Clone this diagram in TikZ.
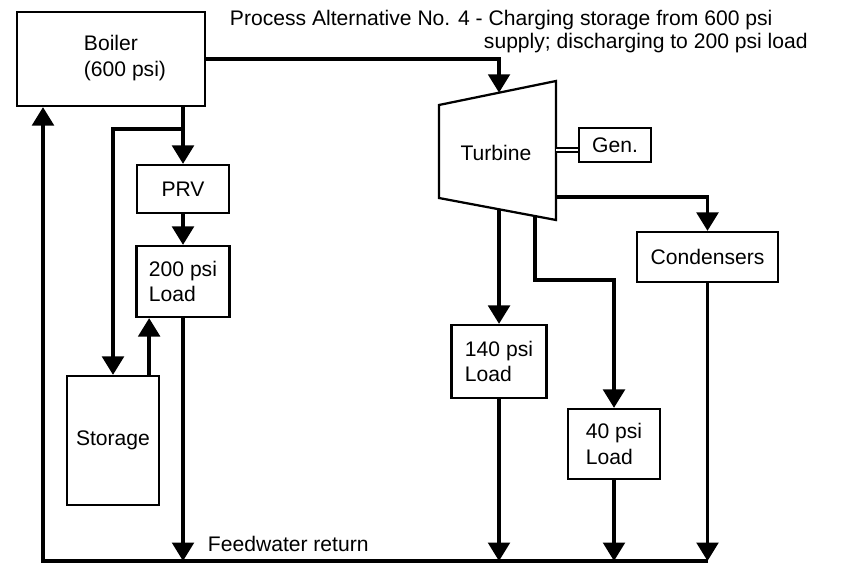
\documentclass[tikz,border=0pt]{standalone}
\usepackage{fontspec}
\setmainfont{Liberation Sans}
\usepackage{tikz}
\usetikzlibrary{arrows.meta, positioning, calc}

\begin{document}
\begin{tikzpicture}[
    x=0.025cm, y=-0.025cm,
    font=\fontsize{15}{18}\selectfont,
    blk/.style={rectangle, draw, line width=1.6pt, inner sep=0pt, align=left},
    flow/.style={line width=2.4pt},
    arrow/.style={flow, -{Triangle[length=4.6mm, width=5.4mm]}},
    shaft/.style={line width=1.6pt, double, double distance=1.6pt},
]
\useasboundingbox (0,0) rectangle (866,564);

\node[blk, minimum width=4.7cm, minimum height=2.35cm] (boiler) at (111,59) {};
\node[align=left] (boilertxt) at (125,58) {Boiler\\(600 psi)};
\node[blk, minimum width=2.3cm, minimum height=1.2cm] (prv) at (183,189) {PRV};
\node[blk, minimum width=2.325cm, minimum height=1.775cm] (l200) at (183,281.5) {200 psi\\Load};
\node[blk, minimum width=2.3cm, minimum height=3.225cm] (storage) at (113,440.5) {Storage};
\node[blk, minimum width=1.8cm, minimum height=0.85cm] (gen) at (615,145) {Gen.};
\node[blk, minimum width=3.525cm, minimum height=1.25cm] (cond) at (707.5,257) {Condensers};
\node[blk, minimum width=2.375cm, minimum height=1.825cm] (l140) at (499,361.5) {140 psi\\Load};
\node[blk, minimum width=2.3cm, minimum height=1.75cm] (l40) at (614,444) {40 psi\\Load};

\coordinate (tTL) at (439,105);
\coordinate (tTR) at (556,81);
\coordinate (tBR) at (556,220);
\coordinate (tBL) at (439,198);
\draw[line width=1.6pt] (tTL) -- (tTR) -- (tBR) -- (tBL) -- cycle;
\node (turbine) at (496,153) {Turbine};

\node[anchor=west] (title1) at (225,20) {Process Alternative No. 4 - Charging storage from 600 psi};
\node[anchor=west] (title2) at (479,43) {supply; discharging to 200 psi load};
\node[anchor=west] (fwlabel) at (203,544) {Feedwater return};

\coordinate (tin) at ($(tTL)!0.513!(tTR)$);
\coordinate (tout1) at (556,197);
\coordinate (tout2) at ($(tBL)!0.513!(tBR)$);
\coordinate (tout3) at ($(tBL)!0.82!(tBR)$);
\coordinate (bend40) at (614,280);
\coordinate (shaftin) at (556,150);
\coordinate (jn) at (183,129);
\coordinate (stout) at ($(storage.north east)+(-11,0)$);
\coordinate (retL) at (43,561);
\coordinate (retR) at (708,561);

\draw[arrow] (boiler.east) -| (tin);
\draw[shaft] (shaftin) -- (shaftin -| gen.west);
\draw[arrow] (tout1) -| (cond.north);
\draw[arrow] (tout2) -- (tout2 |- l140.north);
\draw[arrow] (tout3) |- (bend40) -- (l40.north);

\draw[arrow] (prv.north |- boiler.south) -- (prv.north);
\draw[arrow] (jn) -| (storage.north);
\draw[arrow] (prv) -- (l200);
\draw[arrow] (stout) -- (stout |- l200.south);

\draw[arrow] (l200.south) -- (l200.south |- retL);
\draw[arrow] (l140.south) -- (l140.south |- retL);
\draw[arrow] (l40.south) -- (l40.south |- retL);
\draw[arrow] (cond.south) -- (cond.south |- retL);
\draw[arrow] (retR) -- (retL) -- (retL |- boiler.south);

\end{tikzpicture}
\end{document}
